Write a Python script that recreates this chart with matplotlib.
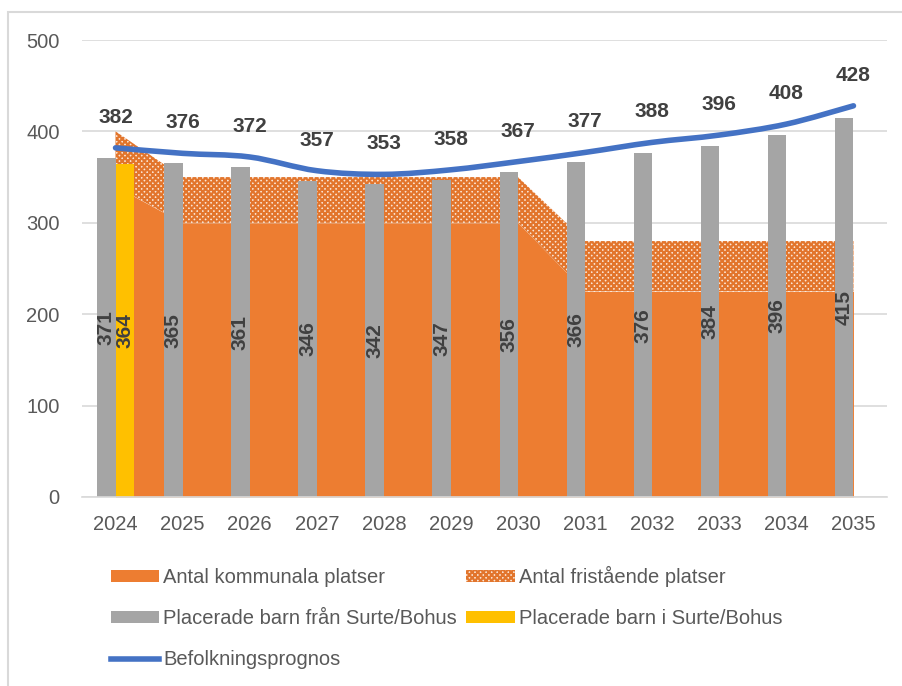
import matplotlib
matplotlib.use("Agg")
import matplotlib.pyplot as plt
from matplotlib.patches import Patch, PathPatch, Rectangle
from matplotlib.lines import Line2D
from matplotlib.path import Path
import numpy as np

plt.rcParams["font.family"] = ["Liberation Sans", "DejaVu Sans"]
plt.rcParams["hatch.color"] = "#E2752C"
plt.rcParams["hatch.linewidth"] = 1.6

# ── data ────────────────────────────────────────────────────────────────
years = ["2024", "2025", "2026", "2027", "2028", "2029",
         "2030", "2031", "2032", "2033", "2034", "2035"]
kommunala   = [340, 300, 300, 300, 300, 300, 300, 225, 225, 225, 225, 225]
fristaende  = [60, 50, 50, 50, 50, 50, 50, 55, 55, 55, 55, 55]
fran_surte  = [371, 365, 361, 346, 342, 347, 356, 366, 376, 384, 396, 415]
i_surte     = [364]                     # only 2024
prognos     = [382, 376, 372, 357, 353, 358, 367, 377, 388, 396, 408, 428]

ORANGE = "#ED7D31"
GRAY   = "#A5A5A5"
YELLOW = "#FFC000"
BLUE   = "#4472C4"
LABEL  = "#404040"
TICK   = "#595959"
GRID   = "#D9D9D9"


def smooth_path(xs, ys):
    # Excel-style smoothed line as cubic bezier segments through the points
    n = len(xs)
    verts = [(xs[0], ys[0])]
    codes = [Path.MOVETO]
    for i in range(n - 1):
        x0, y0 = xs[max(i - 1, 0)], ys[max(i - 1, 0)]
        x1, y1 = xs[i], ys[i]
        x2, y2 = xs[i + 1], ys[i + 1]
        x3, y3 = xs[min(i + 2, n - 1)], ys[min(i + 2, n - 1)]
        verts += [(x1 + (x2 - x0) / 6, y1 + (y2 - y0) / 6),
                  (x2 - (x3 - x1) / 6, y2 - (y3 - y1) / 6),
                  (x2, y2)]
        codes += [Path.CURVE4] * 3
    return Path(verts, codes)


fig = plt.figure(figsize=(9.03, 6.86), dpi=100, facecolor="white")
ax = fig.add_axes([82 / 903, 1 - 497 / 686, 805 / 903, 457 / 686])

x = np.arange(len(years))
kom = np.array(kommunala)
tot = kom + np.array(fristaende)

# areas
ax.fill_between(x, 0, kom, color=ORANGE, linewidth=0, zorder=1)
ax.fill_between(x, kom, tot, facecolor="#FBE6D6", edgecolor="#E2752C",
                hatch="xxxxxx", linewidth=0, zorder=1)

# bars
w = 0.276
ax.bar(x - w / 2, fran_surte, width=w, color=GRAY, zorder=2)
ax.bar(x[:len(i_surte)] + w / 2, i_surte, width=w, color=YELLOW, zorder=2)

for xi, v in zip(x - w / 2, fran_surte):
    ax.text(xi, v / 2, str(v), rotation=90, ha="center", va="center",
            fontsize=15, fontweight="bold", color=LABEL, zorder=5)
for xi, v in zip(x[:len(i_surte)] + w / 2, i_surte):
    ax.text(xi, v / 2, str(v), rotation=90, ha="center", va="center",
            fontsize=15, fontweight="bold", color=LABEL, zorder=5)

# smoothed population forecast
ax.add_patch(PathPatch(smooth_path(x, prognos), facecolor="none",
                       edgecolor=BLUE, linewidth=4, capstyle="round", zorder=4))
for xi, v in zip(x, prognos):
    ax.annotate(str(v), xy=(xi, v), xytext=(0, 22), textcoords="offset points",
                ha="center", va="center", fontsize=15, fontweight="bold",
                color=LABEL, zorder=5)

# axes styling
ax.set_xlim(-0.5, len(years) - 0.5)
ax.set_ylim(0, 500)
ax.set_yticks(range(0, 501, 100))
ax.set_xticks(x)
ax.set_xticklabels(years)
ax.yaxis.grid(True, color=GRID, linewidth=1.2, zorder=0)
ax.set_axisbelow(True)
for s in ["top", "right", "left"]:
    ax.spines[s].set_visible(False)
ax.spines["bottom"].set_color(GRID)
ax.spines["bottom"].set_linewidth(1.2)
ax.tick_params(axis="both", length=0, labelsize=14.5, colors=TICK)
ax.tick_params(axis="y", pad=16)
ax.tick_params(axis="x", pad=13)

# legend
handles = [
    Patch(facecolor=ORANGE, edgecolor="none"),
    Patch(facecolor=GRAY, edgecolor="none"),
    Line2D([0], [0], color=BLUE, linewidth=4),
    Patch(facecolor="#FBE6D6", edgecolor="#E2752C", hatch="xxxxxx", linewidth=0),
    Patch(facecolor=YELLOW, edgecolor="none"),
]
labels = ["Antal kommunala platser", "Placerade barn från Surte/Bohus",
          "Befolkningsprognos", "Antal fristående platser",
          "Placerade barn i Surte/Bohus"]
leg = fig.legend(handles, labels, ncol=2, loc="upper left",
                 bbox_to_anchor=(111 / 903, 1 - 566 / 686), frameon=False,
                 fontsize=14.5, handlelength=2.4, handleheight=0.55,
                 handletextpad=0.2, columnspacing=0.45, labelspacing=1.1,
                 borderpad=0, borderaxespad=0)
for t in leg.get_texts():
    t.set_color(TICK)

# chart border
fig.patches.append(Rectangle((8 / 903, -0.1), 1.2, 1 - 12 / 686 + 0.1,
                             transform=fig.transFigure, fill=False,
                             edgecolor=GRID, linewidth=1.5, zorder=0))

fig.savefig("out.png", dpi=100, facecolor="white")
